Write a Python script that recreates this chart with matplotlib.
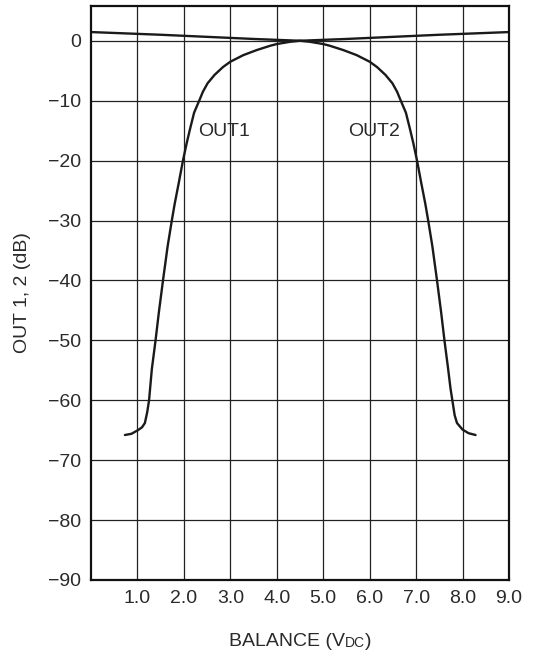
import matplotlib
matplotlib.use("Agg")
import matplotlib.pyplot as plt

plt.rcParams['font.family'] = ['Liberation Sans', 'DejaVu Sans']

# OUT1 curve
out1_x = [0.73, 0.87, 1.01, 1.10, 1.16, 1.21, 1.25, 1.31, 1.39, 1.46, 1.55, 1.65, 1.74,
          1.80, 1.89, 1.98, 2.06, 2.13, 2.22, 2.33, 2.41, 2.51, 2.66, 2.84, 3.0,
          3.28, 3.57, 3.86, 4.0, 4.29, 4.5,
          5.5, 6.5, 7.5, 8.5, 9.0]
out1_y = [-65.8, -65.6, -65.0, -64.5, -63.8, -62.0, -60.0, -54.8, -50.0, -45.4, -40.0, -34.3, -30.0,
          -27.3, -23.7, -20.0, -17.1, -14.8, -12.0, -10.0, -8.5, -7.1, -5.7, -4.4, -3.5,
          -2.4, -1.55, -0.83, -0.55, -0.17, 0.0,
          0.3, 0.65, 1.0, 1.3, 1.45]

# OUT2 curve
out2_x = [0.0, 0.5, 1.5, 2.5, 3.5, 4.5,
          4.71, 5.0, 5.14, 5.43, 5.72, 6.0, 6.16, 6.34, 6.49, 6.59, 6.67, 6.78,
          6.87, 6.94, 7.02, 7.11, 7.20, 7.26, 7.35, 7.45, 7.54, 7.61, 7.69, 7.74,
          7.78, 7.83, 7.88, 8.0, 8.13, 8.28]
out2_y = [1.45, 1.3, 1.0, 0.65, 0.3, 0.0,
          -0.17, -0.55, -0.83, -1.55, -2.4, -3.5, -4.4, -5.7, -7.1, -8.5, -10.0, -12.0,
          -14.8, -17.1, -20.0, -23.7, -27.3, -30.0, -34.3, -40.0, -45.4, -50.0, -54.8, -58.0,
          -60.0, -62.5, -63.8, -64.9, -65.5, -65.8]

x_ticks = [1, 2, 3, 4, 5, 6, 7, 8, 9]
x_tick_labels = ["1.0", "2.0", "3.0", "4.0", "5.0", "6.0", "7.0", "8.0", "9.0"]
y_ticks = [0, -10, -20, -30, -40, -50, -60, -70, -80, -90]
y_tick_labels = ["0", "\u221210", "\u221220", "\u221230", "\u221240", "\u221250",
                 "\u221260", "\u221270", "\u221280", "\u221290"]

FS = 14
TXT = '#2a2a2a'

fig = plt.figure(figsize=(5.34, 6.56), dpi=100)
ax = fig.add_axes([91/534, 1 - 580/656, 418/534, 574/656])

ax.set_xlim(0, 9)
ax.set_ylim(-90, 5.8)
ax.set_xticks(x_ticks)
ax.set_xticklabels(x_tick_labels)
ax.set_yticks(y_ticks)
ax.set_yticklabels(y_tick_labels)
ax.tick_params(length=0, labelsize=FS, colors=TXT)
ax.tick_params(axis='x', pad=7)
ax.tick_params(axis='y', pad=7)

ax.grid(True, color='#222222', linewidth=0.9)
ax.set_axisbelow(True)
for s in ax.spines.values():
    s.set_linewidth(1.6)
    s.set_color('#111111')

ax.plot(out1_x, out1_y, color='#1a1a1a', linewidth=1.7, solid_joinstyle='round',
        solid_capstyle='round')
ax.plot(out2_x, out2_y, color='#1a1a1a', linewidth=1.7, solid_joinstyle='round',
        solid_capstyle='round')

ax.text(2.87, -15.2, "OUT1", ha='center', va='center', fontsize=FS, color=TXT)
ax.text(6.1, -15.2, "OUT2", ha='center', va='center', fontsize=FS, color=TXT)

ax.set_ylabel("OUT 1, 2 (dB)", fontsize=FS, color=TXT)
ax.yaxis.set_label_coords((31 - 91) / 418, 0.5)

# x label with small-caps "DC"
t1 = fig.text(0.0, 0.0, "BALANCE (V", fontsize=FS, color=TXT, ha='left', va='baseline')
t2 = ax.annotate("DC", xy=(1, 0), xycoords=t1, fontsize=10, color=TXT,
                 ha='left', va='bottom')
t3 = ax.annotate(")", xy=(1, 0), xycoords=t2, fontsize=FS, color=TXT,
                 ha='left', va='bottom')
fig.canvas.draw()
r = fig.canvas.get_renderer()
w = (t1.get_window_extent(r).width + t2.get_window_extent(r).width
     + t3.get_window_extent(r).width)
cx = 300
t1.set_position(((cx - w / 2) / 534, 1 - 646 / 656))

fig.savefig("out.png", dpi=100)
